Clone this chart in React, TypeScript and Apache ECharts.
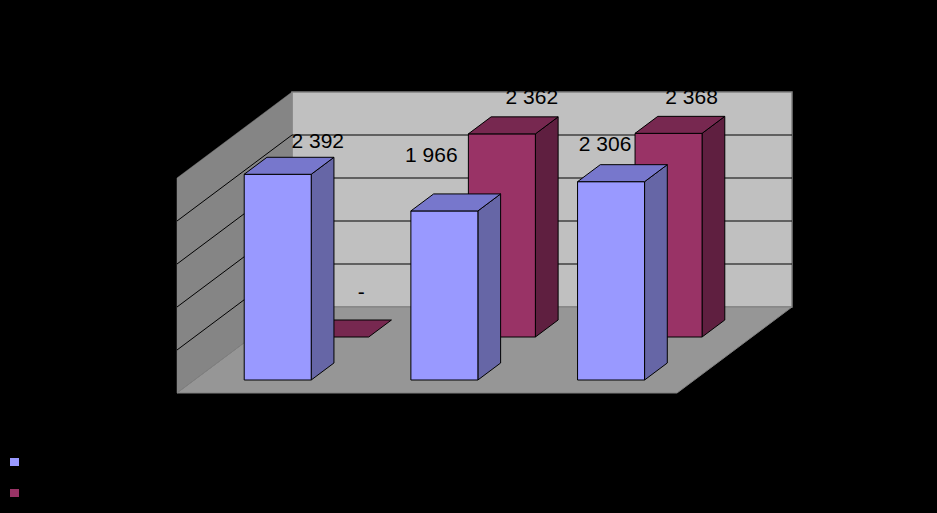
import React, { useEffect, useRef } from "react";
import * as echarts from "echarts";

// ---- data ----
const categories = ["1", "2", "3"];
const seriesNames = ["Ряд 1", "Ряд 2"];
const frontValues = [2392, 1966, 2306]; // front row (blue)
const backValues = [0, 2362, 2368]; // back row (red)
const valueTicks = [0, 500, 1000, 1500, 2000, 2500];

// ---- layout / style ----
const K = 115 / 86; // x shift per unit of depth (depth measured in px of vertical shift)
const DEPTH_TOTAL = 86;
const ROW_DEPTH = [13, 56];
const BAR_DEPTH = 17;
const BAR_FRAC = 0.402;
const COLORS = [
  { front: "#9999FF", top: "#7777CC", side: "#6666A6" },
  { front: "#993366", top: "#772850", side: "#5F1F40" },
];
// label nudges relative to bar's front-top centre
const LABEL_NUDGE = [
  [[40, -34], [-13, -56], [-6, -38]],
  [[26, -46], [30, -37], [23, -37]],
];
const FONT = "'Liberation Sans', Arial, sans-serif";

function P(x: number, y: number, d: number): number[] {
  return [x + d * K, y - d];
}

function fmt(v: number): string {
  if (v === 0) return "-";
  const s = String(Math.round(v));
  return s.replace(/\B(?=(\d{3})+(?!\d))/g, " ");
}

function wallsRender(params: any, api: any) {
  const band = api.size([1, 0])[0];
  const x0 = api.coord([0, 0])[0] - band / 2;
  const x1 = api.coord([categories.length - 1, 0])[0] + band / 2;
  const yMin = api.coord([0, valueTicks[0]])[1];
  const yMax = api.coord([0, valueTicks[valueTicks.length - 1]])[1];
  const D = DEPTH_TOTAL;
  const children: any[] = [];
  // back wall
  children.push({
    type: "polygon",
    shape: { points: [P(x0, yMax, D), P(x1, yMax, D), P(x1, yMin, D), P(x0, yMin, D)] },
    style: { fill: "#C0C0C0", stroke: "#808080", lineWidth: 1.5 },
  });
  // left wall
  children.push({
    type: "polygon",
    shape: { points: [P(x0, yMax, 0), P(x0, yMax, D), P(x0, yMin, D), P(x0, yMin, 0)] },
    style: { fill: "#858585", stroke: "#858585", lineWidth: 0.5 },
  });
  // floor
  children.push({
    type: "polygon",
    shape: { points: [P(x0, yMin, 0), P(x1, yMin, 0), P(x1, yMin, D), P(x0, yMin, D)] },
    style: { fill: "#969696", stroke: "#808080", lineWidth: 1 },
  });
  // gridlines
  for (let i = 1; i < valueTicks.length - 1; i++) {
    const y = api.coord([0, valueTicks[i]])[1];
    children.push({
      type: "polyline",
      shape: { points: [P(x0, y, 0), P(x0, y, D), P(x1, y, D)] },
      style: { stroke: "#000", lineWidth: 1, fill: null },
    });
  }
  return { type: "group", children };
}

function makeBarRender(row: number) {
  const col = COLORS[row];
  return (params: any, api: any) => {
    const ci = api.value(0);
    const v = api.value(1);
    const c = api.coord([ci, v]);
    const base = api.coord([ci, 0]);
    const bw = api.size([1, 0])[0] * BAR_FRAC;
    const d0 = ROW_DEPTH[row];
    const d1 = d0 + BAR_DEPTH;
    const xl = c[0] - bw / 2;
    const xr = c[0] + bw / 2;
    const yt = c[1];
    const yb = base[1];
    const stroke = { stroke: "#000", lineWidth: 1, lineJoin: "round" };
    const children: any[] = [];
    if (v > 0) {
      children.push({
        type: "polygon",
        shape: { points: [P(xr, yt, d0), P(xr, yt, d1), P(xr, yb, d1), P(xr, yb, d0)] },
        style: { fill: col.side, ...stroke },
      });
      children.push({
        type: "polygon",
        shape: { points: [P(xl, yt, d0), P(xr, yt, d0), P(xr, yb, d0), P(xl, yb, d0)] },
        style: { fill: col.front, ...stroke },
      });
    }
    children.push({
      type: "polygon",
      shape: { points: [P(xl, yt, d0), P(xr, yt, d0), P(xr, yt, d1), P(xl, yt, d1)] },
      style: { fill: col.top, ...stroke },
    });
    const ft = P(c[0], yt, d0);
    const nudge = LABEL_NUDGE[row][params.dataIndex] || [0, -35];
    children.push({
      type: "text",
      x: ft[0] + nudge[0],
      y: ft[1] + nudge[1],
      style: {
        text: fmt(v),
        fill: "#000",
        font: `21px ${FONT}`,
        align: "center",
        verticalAlign: "middle",
      },
      z2: 10,
    });
    return { type: "group", children };
  };
}

export default function App() {
  const ref = useRef<HTMLDivElement>(null);
  useEffect(() => {
    if (!ref.current) return;
    const chart = echarts.init(ref.current, undefined, { renderer: "svg" });
    chart.setOption({
      animation: false,
      backgroundColor: "#000",
      grid: { left: 177, top: 178, width: 500, height: 215, containLabel: false },
      xAxis: {
        type: "category",
        data: categories,
        axisLine: { show: false },
        axisTick: { show: false },
        axisLabel: { show: false },
        splitLine: { show: false },
      },
      yAxis: {
        type: "value",
        min: valueTicks[0],
        max: valueTicks[valueTicks.length - 1],
        interval: 500,
        axisLine: { show: false },
        axisTick: { show: false },
        axisLabel: { show: false },
        splitLine: { show: false },
      },
      legend: {
        orient: "vertical",
        left: 10,
        top: 452,
        padding: 0,
        itemWidth: 9,
        itemHeight: 8,
        itemGap: 11,
        textStyle: { color: "#000", fontSize: 16, lineHeight: 20, fontFamily: FONT },
        data: [
          { name: seriesNames[0], icon: "rect" },
          { name: seriesNames[1], icon: "rect" },
        ],
      },
      series: [
        {
          type: "custom",
          name: "walls",
          z: 1,
          clip: false,
          silent: true,
          renderItem: wallsRender,
          data: [[0, 0]],
        },
        {
          type: "custom",
          name: seriesNames[1],
          z: 2,
          clip: false,
          itemStyle: { color: COLORS[1].front },
          renderItem: makeBarRender(1),
          data: backValues.map((v, i) => [i, v]),
        },
        {
          type: "custom",
          name: seriesNames[0],
          z: 3,
          clip: false,
          itemStyle: { color: COLORS[0].front },
          renderItem: makeBarRender(0),
          data: frontValues.map((v, i) => [i, v]),
        },
      ],
    });
    return () => chart.dispose();
  }, []);
  return (
    <div
      ref={ref}
      style={{ position: "fixed", left: 0, top: 0, width: 937, height: 513 }}
    />
  );
}
